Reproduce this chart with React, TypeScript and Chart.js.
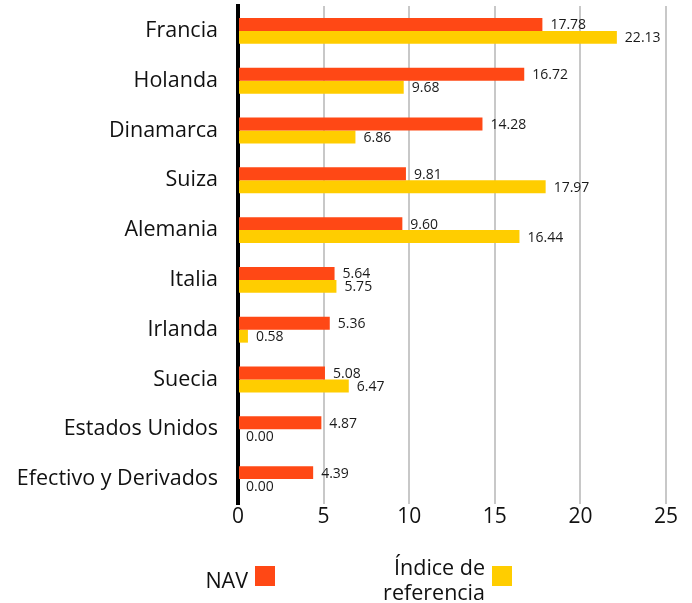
import React, { useEffect, useRef } from "react";
import { Chart, registerables } from "chart.js";

Chart.register(...registerables);

const categories = [
  "Francia",
  "Holanda",
  "Dinamarca",
  "Suiza",
  "Alemania",
  "Italia",
  "Irlanda",
  "Suecia",
  "Estados Unidos",
  "Efectivo y Derivados",
];
const navValues = [17.78, 16.72, 14.28, 9.81, 9.6, 5.64, 5.36, 5.08, 4.87, 4.39];
const indexValues = [22.13, 9.68, 6.86, 17.97, 16.44, 5.75, 0.58, 6.47, 0.0, 0.0];
const xTicks = [0, 5, 10, 15, 20, 25];
const seriesNames = ["NAV", "Índice de referencia"];

const ORANGE = "#ff4815";
const YELLOW = "#ffcd00";
const FONT = "'Open Sans', Roboto, sans-serif";

const labelPlugin = {
  id: "valueLabels",
  afterDatasetsDraw(chart: any) {
    const ctx = chart.ctx;
    ctx.save();
    ctx.font = `14px ${FONT}`;
    ctx.fillStyle = "#1a1a1a";
    ctx.textBaseline = "middle";
    ctx.textAlign = "left";
    chart.data.datasets.forEach((ds: any, di: number) => {
      const meta = chart.getDatasetMeta(di);
      meta.data.forEach((el: any, i: number) => {
        const v = ds.data[i] as number;
        ctx.fillText(v.toFixed(2), el.x + 8, el.y + 1);
      });
    });
    ctx.restore();
  },
};

export default function App() {
  const ref = useRef<HTMLCanvasElement | null>(null);
  useEffect(() => {
    if (!ref.current) return;
    const chart = new Chart(ref.current, {
      type: "bar",
      data: {
        labels: categories,
        datasets: [
          {
            label: seriesNames[0],
            data: navValues,
            backgroundColor: ORANGE,
            categoryPercentage: 0.52,
            barPercentage: 1.0,
          },
          {
            label: seriesNames[1],
            data: indexValues,
            backgroundColor: YELLOW,
            categoryPercentage: 0.52,
            barPercentage: 1.0,
          },
        ],
      },
      options: {
        indexAxis: "y",
        animation: false,
        responsive: false,
        maintainAspectRatio: false,
        layout: { padding: { top: 6, right: 26, bottom: 0, left: 0 } },
        plugins: {
          legend: { display: false },
          tooltip: { enabled: false },
        },
        scales: {
          x: {
            min: 0,
            max: 25,
            afterBuildTicks: (s: any) => {
              s.ticks = xTicks.map((v) => ({ value: v }));
            },
            afterFit: (s: any) => {
              s.height = 99;
              s.paddingLeft = 0;
              s.paddingRight = 0;
            },
            grid: {
              drawTicks: false,
              color: (c: any) => (c.tick && c.tick.value === 0 ? "rgba(0,0,0,0)" : "#c8c8c8"),
              lineWidth: 2,
            },
            border: { display: false },
            ticks: {
              padding: 0,
              color: "#111",
              font: { family: FONT, size: 21 },
            },
          },
          y: {
            afterFit: (s: any) => {
              s.width = 238;
              s.paddingTop = 0;
              s.paddingBottom = 0;
            },
            grid: { display: false, drawTicks: false },
            border: { display: true, color: "#000", width: 4 },
            ticks: {
              padding: 20,
              color: "#111",
              font: { family: FONT, size: 21.5 },
            },
          },
        },
      },
      plugins: [labelPlugin],
    });
    return () => chart.destroy();
  }, []);

  const legendText: React.CSSProperties = {
    position: "absolute",
    fontFamily: FONT,
    fontSize: 21.5,
    color: "#111",
    textAlign: "right",
    lineHeight: "25px",
    whiteSpace: "nowrap",
  };
  const sq = (left: number, color: string): React.CSSProperties => ({
    position: "absolute",
    left,
    top: 566,
    width: 20,
    height: 20,
    background: color,
  });

  return (
    <div style={{ position: "fixed", left: 0, top: 0, width: 692, height: 603, background: "#fff" }}>
      <canvas ref={ref} width={692} height={603} style={{ position: "absolute", left: 0, top: 0 }} />
      <div style={{ ...legendText, right: 692 - 248, top: 567 }}>{seriesNames[0]}</div>
      <div style={sq(255, ORANGE)} />
      <div style={{ ...legendText, right: 692 - 485, top: 554 }}>
        Índice de
        <br />
        referencia
      </div>
      <div style={sq(492, YELLOW)} />
    </div>
  );
}
